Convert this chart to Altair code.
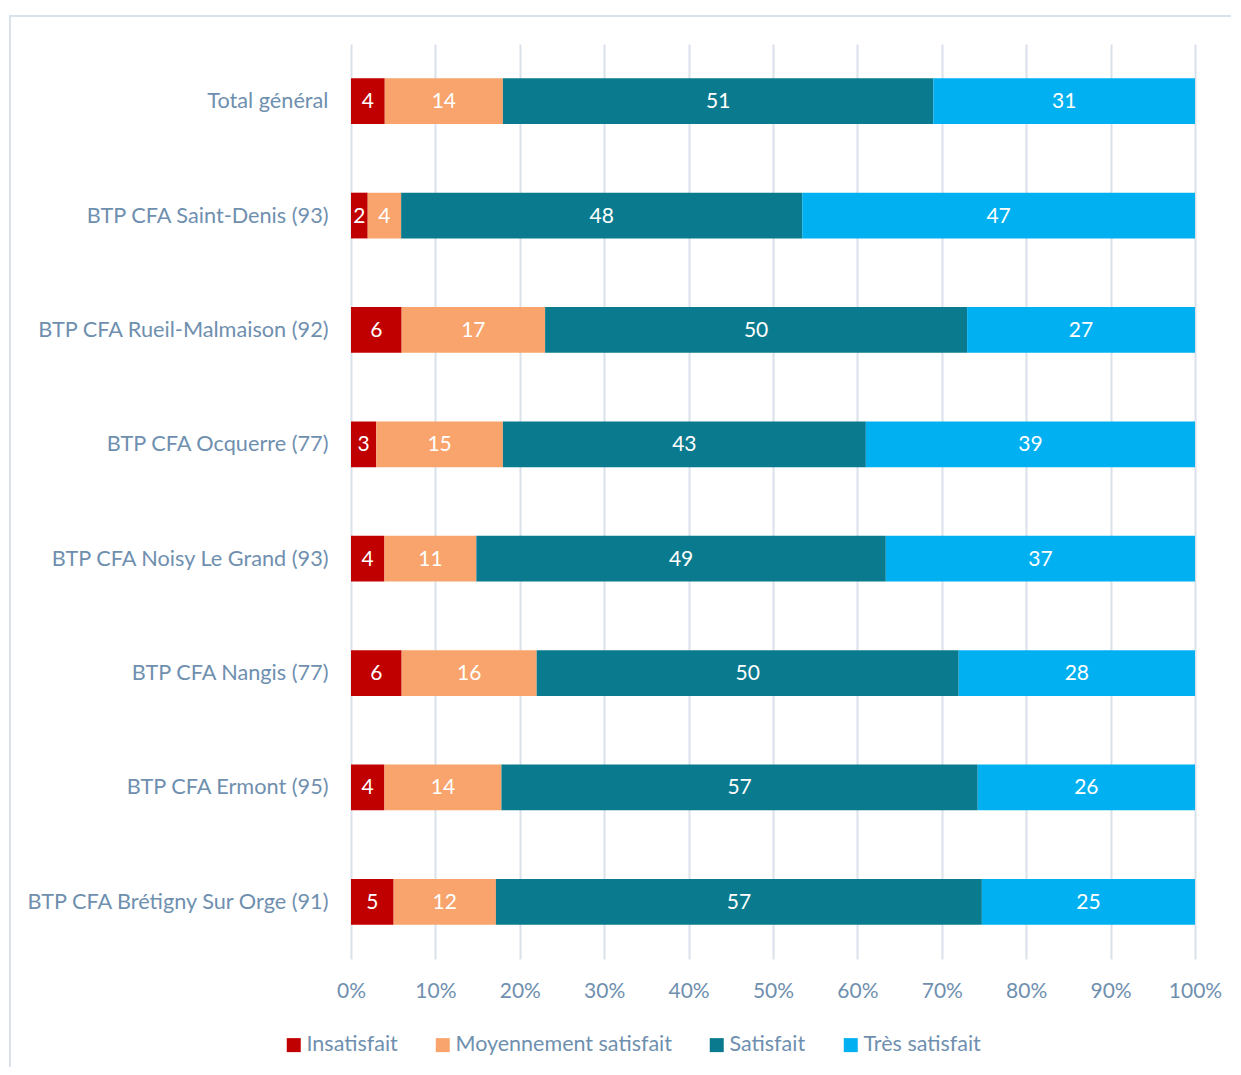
import altair as alt
import pandas as pd

sites = [
    "Total général",
    "BTP CFA Saint-Denis (93)",
    "BTP CFA Rueil-Malmaison (92)",
    "BTP CFA Ocquerre (77)",
    "BTP CFA Noisy Le Grand (93)",
    "BTP CFA Nangis (77)",
    "BTP CFA Ermont (95)",
    "BTP CFA Brétigny Sur Orge (91)",
]
levels = ["Insatisfait", "Moyennement satisfait", "Satisfait", "Très satisfait"]
colors = ["#C00000", "#F8A46C", "#0A7B8E", "#00B0F0"]

insatisfait = [4, 2, 6, 3, 4, 6, 4, 5]
moyennement = [14, 4, 17, 15, 11, 16, 14, 12]
satisfait = [51, 48, 50, 43, 49, 50, 57, 57]
tres_satisfait = [31, 47, 27, 39, 37, 28, 26, 25]

series = [insatisfait, moyennement, satisfait, tres_satisfait]
rows = []
for li, (lvl, vals) in enumerate(zip(levels, series)):
    for s, v in zip(sites, vals):
        rows.append({"site": s, "level": lvl, "order": li, "value": v})
df = pd.DataFrame(rows)

FONT = "Lato"
FS = 21
TXT = "#6F8FAF"
FRAME = "#D9E1EA"

base = alt.Chart(df).transform_stack(
    stack="value",
    as_=["v0", "v1"],
    groupby=["site"],
    sort=[alt.SortField("order", order="ascending")],
    offset="normalize",
)

y_enc = alt.Y(
    "site:N",
    sort=sites,
    title=None,
    scale=alt.Scale(paddingInner=0.6, paddingOuter=0.3),
    axis=alt.Axis(
        domain=False, ticks=False, grid=False, labelPadding=23,
        labelFont=FONT, labelFontSize=21.7, labelColor=TXT, labelLimit=400,
    ),
)

bars = base.mark_bar().encode(
    x=alt.X(
        "v0:Q",
        title=None,
        scale=alt.Scale(domain=[0, 1], nice=False),
        axis=alt.Axis(
            format="%", values=[i / 10 for i in range(11)], domain=False, ticks=False,
            grid=True, gridColor=FRAME, gridWidth=2, labelPadding=21,
            labelFlush=False, labelOverlap=False,
            labelFont=FONT, labelFontSize=FS, labelColor=TXT,
        ),
    ),
    x2="v1:Q",
    y=y_enc,
    color=alt.Color(
        "level:N",
        sort=levels,
        scale=alt.Scale(domain=levels, range=colors),
        legend=alt.Legend(
            title=None, orient="none", direction="horizontal",
            legendX=-68, legendY=990,
            symbolType="square", symbolSize=196, symbolStrokeWidth=0,
            labelFont=FONT, labelFontSize=21.5, labelColor=TXT, labelLimit=400,
            labelOffset=2, columnPadding=34,
        ),
    ),
    order=alt.Order("order:Q"),
)

labels = base.transform_calculate(mid="(datum.v0 + datum.v1) / 2").mark_text(
    color="white", font=FONT, fontSize=FS, baseline="middle", dy=1
).encode(
    x="mid:Q",
    y=alt.Y("site:N", sort=sites),
    text=alt.Text("value:Q"),
)

one = alt.Data(values=[{"a": 1}])
left_line = alt.Chart(one).mark_rule(stroke=FRAME, strokeWidth=2).encode(
    x=alt.value(-341), y=alt.value(-29), y2=alt.value(1023)
)
top_line = alt.Chart(one).mark_rule(stroke=FRAME, strokeWidth=2).encode(
    x=alt.value(-342), x2=alt.value(880), y=alt.value(-28)
)

chart = alt.layer(left_line, top_line, bars, labels).properties(
    width=844, height=915, padding={"left": 0, "top": 6, "right": 0, "bottom": 0}
).configure_view(stroke=None)

chart.save("out.html", embed_options={"renderer": "svg", "actions": False})
